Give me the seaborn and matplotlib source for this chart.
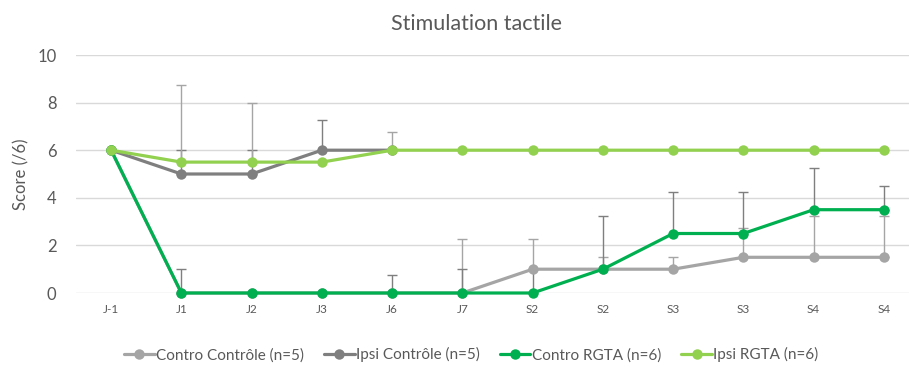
import numpy as np
import pandas as pd
import matplotlib
matplotlib.use("Agg")
import matplotlib.pyplot as plt
import seaborn as sns

# ----------------------------
# Data
# ----------------------------

jours = ["J-1", "J1", "J2", "J3", "J6", "J7", "S2", "S2", "S3", "S3", "S4", "S4"]

contro_ctrl = [6, 0, 0, 0, 0, 0, 1, 1, 1, 1.5, 1.5, 1.5]
ipsi_ctrl = [6, 5, 5, 6, 6, np.nan, np.nan, np.nan, np.nan, np.nan, np.nan, np.nan]
contro_rgta = [6, 0, 0, 0, 0, 0, 0, 1, 2.5, 2.5, 3.5, 3.5]
ipsi_rgta = [6, 5.5, 5.5, 5.5, 6, 6, 6, 6, 6, 6, 6, 6]

# upper error only (NaN = no bar)
err_contro_ctrl = [np.nan, np.nan, np.nan, np.nan, np.nan, 2.25, 1.25, 0.5, 0.5, 1.25, 1.75, 1.75]
err_ipsi_ctrl = [np.nan, 1, 1, 1.25, np.nan, np.nan, np.nan, np.nan, np.nan, np.nan, np.nan, np.nan]
err_contro_rgta = [np.nan, 1, np.nan, np.nan, 0.75, 1, 1, 2.25, 1.75, 1.75, 1.75, 1.0]
err_ipsi_rgta = [np.nan, 3.25, 2.5, np.nan, 0.75, np.nan, np.nan, np.nan, np.nan, np.nan, np.nan, np.nan]

groupes = ["Contro Contrôle (n=5)", "Ipsi Contrôle (n=5)", "Contro RGTA (n=6)", "Ipsi RGTA (n=6)"]
couleurs = ["#A5A5A5", "#7F7F7F", "#00B050", "#92D050"]
couleurs_err = ["#A5A5A5", "#7F7F7F", "#7F7F7F", "#A5A5A5"]

series = [contro_ctrl, ipsi_ctrl, contro_rgta, ipsi_rgta]
erreurs = [err_contro_ctrl, err_ipsi_ctrl, err_contro_rgta, err_ipsi_rgta]

rows = []
for g, vals in zip(groupes, series):
    for i, v in enumerate(vals):
        rows.append({"x": i, "score": v, "groupe": g})
df = pd.DataFrame(rows)

# ----------------------------
# Plot
# ----------------------------

sns.set_style("white")
plt.rcParams["font.family"] = ["Lato", "DejaVu Sans"]

fig = plt.figure(figsize=(9.09, 3.67), dpi=100)
ax = fig.add_axes([76 / 909, 1 - 293 / 367, 843 / 909, 238 / 367])

# error bars first (behind the lines)
for g, vals, err, c in zip(groupes, series, erreurs, couleurs_err):
    x = np.arange(len(jours))
    e = np.array(err, dtype=float)
    mask = ~np.isnan(e)
    v = np.array(vals, dtype=float)
    ax.errorbar(x[mask], v[mask], yerr=[np.zeros(mask.sum()), e[mask]],
                fmt="none", ecolor=c, elinewidth=1.0, capsize=3.5, capthick=1.0, zorder=1)

sns.lineplot(data=df.dropna(), x="x", y="score", hue="groupe", hue_order=groupes,
             palette=couleurs, marker="o", markersize=7.5, markeredgewidth=0,
             linewidth=2.3, sort=False, errorbar=None, ax=ax, zorder=3)
for line in ax.get_lines():
    line.set_clip_on(False)

ax.set_xlim(-0.5, 11.5)
ax.set_ylim(0, 10)
ax.set_yticks([0, 2, 4, 6, 8, 10])
ax.set_xticks(range(len(jours)))
ax.set_xticklabels(jours, fontsize=8.5, color="#595959")
ax.tick_params(axis="y", labelsize=12, labelcolor="#595959", length=0, pad=14)
ax.tick_params(axis="x", length=0, pad=8)
ax.grid(axis="y", color="#D9D9D9", linewidth=1)
ax.set_axisbelow(True)
for s in ax.spines.values():
    s.set_visible(False)

ax.set_xlabel("")
ax.set_ylabel("Score (/6)", fontsize=12, color="#595959", labelpad=6)
fig.text(0.524, 1 - 24 / 367, "Stimulation tactile", ha="center", va="center",
         fontsize=15.5, color="#595959")

handles, labels = ax.get_legend_handles_labels()
ax.legend(handles, labels, loc="center", bbox_to_anchor=(0.469, -0.26), ncol=4,
          frameon=False, fontsize=11, labelcolor="#595959", handlelength=2.0,
          handletextpad=0.1, columnspacing=1.3)

plt.savefig("out.png", dpi=100)
plt.close()
